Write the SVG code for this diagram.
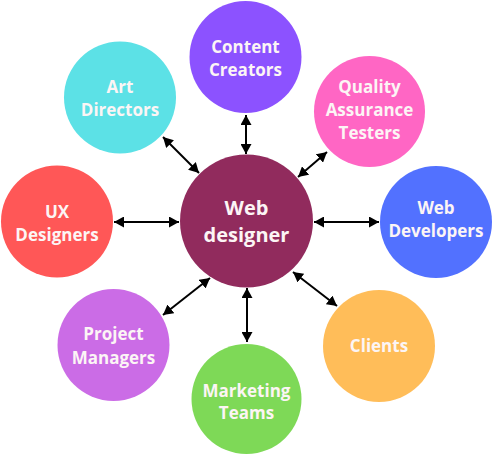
<svg xmlns="http://www.w3.org/2000/svg" width="492" height="455" viewBox="0 0 492 455">
<defs>
<style>
.lbl{font-family:"Open Sans","Noto Sans","Liberation Sans",sans-serif;font-weight:700;font-size:17px;fill:#fcf5f5;text-anchor:middle}
.big{font-size:20px}
.con{stroke:#000;stroke-width:2;fill:none;marker-start:url(#ah);marker-end:url(#ah)}
</style>
<marker id="ah" markerUnits="userSpaceOnUse" markerWidth="10" markerHeight="11" viewBox="0 0 10 11" refX="10" refY="5.5" orient="auto-start-reverse">
<path d="M0,0 L10,5.5 L0,11 z" fill="#000"/>
</marker>
</defs>
<rect width="492" height="455" fill="#fff"/>
<g id="connectors">
<line class="con" x1="246" y1="115" x2="246" y2="154"/>
<line class="con" x1="298" y1="177" x2="327" y2="152"/>
<line class="con" x1="314" y1="222" x2="379" y2="222"/>
<line class="con" x1="293" y1="272" x2="337" y2="306"/>
<line class="con" x1="247" y1="288" x2="247" y2="342"/>
<line class="con" x1="163" y1="315" x2="210" y2="278"/>
<line class="con" x1="114" y1="222" x2="179" y2="222"/>
<line class="con" x1="163" y1="137" x2="199" y2="173"/>
</g>
<g id="web-designer">
<circle cx="246.5" cy="221" r="66.5" fill="#912b5d"/>
<text class="lbl big" x="246.5" y="215">Web</text>
<text class="lbl big" x="246.5" y="242">designer</text>
</g>
<g id="content-creators">
<circle cx="245.5" cy="57" r="56" fill="#8c52ff"/>
<text class="lbl" x="245.5" y="53">Content</text>
<text class="lbl" x="245.5" y="76">Creators</text>
</g>
<g id="quality-assurance-testers">
<circle cx="369.5" cy="111.5" r="55.5" fill="#ff66c4"/>
<text class="lbl" x="369.5" y="93">Quality</text>
<text class="lbl" x="369.5" y="116">Assurance</text>
<text class="lbl" x="369.5" y="139">Testers</text>
</g>
<g id="web-developers">
<circle cx="436" cy="222" r="56" fill="#5271ff"/>
<text class="lbl" x="436" y="214">Web</text>
<text class="lbl" x="436" y="237">Developers</text>
</g>
<g id="clients">
<circle cx="379" cy="346" r="56" fill="#ffbd59"/>
<text class="lbl" x="379" y="352">Clients</text>
</g>
<g id="marketing-teams">
<circle cx="246.5" cy="399" r="55" fill="#7ed957"/>
<text class="lbl" x="246.5" y="397">Marketing</text>
<text class="lbl" x="246.5" y="419">Teams</text>
</g>
<g id="project-managers">
<circle cx="113.5" cy="345" r="56" fill="#cb6ce6"/>
<text class="lbl" x="113.5" y="340">Project</text>
<text class="lbl" x="113.5" y="364">Managers</text>
</g>
<g id="ux-designers">
<circle cx="57" cy="221.5" r="56" fill="#ff5757"/>
<text class="lbl" x="57" y="218">UX</text>
<text class="lbl" x="57" y="241">Designers</text>
</g>
<g id="art-directors">
<circle cx="120" cy="97.5" r="56" fill="#5ce1e6"/>
<text class="lbl" x="120" y="93">Art</text>
<text class="lbl" x="120" y="116">Directors</text>
</g>
</svg>
